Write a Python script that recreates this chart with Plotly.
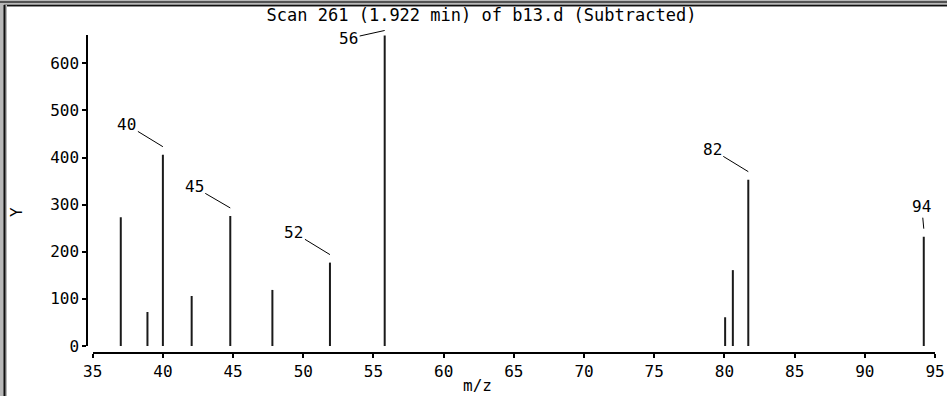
import plotly.graph_objects as go

# ---- data ----
mz = [37.0, 38.9, 40.0, 42.05, 44.8, 47.8, 51.9, 55.8, 80.05, 80.6, 81.7, 94.2]
abundance = [273, 72, 406, 106, 276, 119, 177, 659, 61, 161, 353, 232]

label_text = ["40", "45", "52", "56", "82", "94"]
label_mz = [40.0, 44.8, 51.9, 55.8, 81.7, 94.2]
label_val = [406, 276, 177, 659, 353, 232]

x_ticks = [35, 40, 45, 50, 55, 60, 65, 70, 75, 80, 85, 90, 95]
y_ticks = [0, 100, 200, 300, 400, 500, 600]

title_text = "Scan 261 (1.922 min) of b13.d (Subtracted)"

# ---- geometry ----
W, H = 947, 396
ML, MR, MT, MB = 87, 12, 35, 43
PW = W - ML - MR
PH = H - MT - MB
FONT = "DejaVu Sans Mono"
FS = 16

def px(p):
    return (p - ML) / PW

def py(q):
    return (H - MB - q) / PH

# stick spectrum built from the arrays
xs, ys = [], []
for m, a in zip(mz, abundance):
    xs += [m, m, None]
    ys += [0, a, None]

fig = go.Figure()
fig.add_trace(go.Scatter(x=xs, y=ys, mode="lines",
                         line=dict(color="#1a1a1a", width=2),
                         hoverinfo="skip", showlegend=False))

# label offsets (pixels) for text relative to the leader end
offsets = {"40": (-36, -22), "45": (-36, -21), "52": (-36, -22),
           "56": (-36, 8), "82": (-36, -22), "94": (-2, -22)}
shift = {"56": 5}

annotations = []
for t, m, v in zip(label_text, label_mz, label_val):
    ax, ay = offsets[t]
    annotations.append(dict(
        x=m, y=v, xref="x", yref="y", text=t, showarrow=True,
        arrowhead=0, arrowwidth=1, arrowcolor="black",
        ax=ax, ay=ay, yshift=shift.get(t, 8),
        font=dict(family=FONT, size=FS, color="black")))

annotations.append(dict(x=px(16), y=py(212), xref="paper", yref="paper",
                        xanchor="center", yanchor="middle",
                        text="Y", textangle=-90, showarrow=False,
                        font=dict(family=FONT, size=FS, color="black")))
annotations.append(dict(x=px(477), y=py(385), xref="paper", yref="paper",
                        xanchor="center", yanchor="middle",
                        text="m/z", showarrow=False,
                        font=dict(family=FONT, size=FS, color="black")))

shapes = [
    dict(type="rect", xref="paper", yref="paper", x0=px(0), x1=px(W), y0=py(0), y1=py(7),
         fillcolor="#b8b8b8", line=dict(width=0), layer="above"),
    dict(type="line", xref="paper", yref="paper", x0=px(0), x1=px(W), y0=py(2), y1=py(2),
         line=dict(color="#303030", width=1.5), layer="above"),
    dict(type="line", xref="paper", yref="paper", x0=px(4), x1=px(W), y0=py(5.5), y1=py(5.5),
         line=dict(color="#101010", width=1.5), layer="above"),
    dict(type="rect", xref="paper", yref="paper", x0=px(0), x1=px(7), y0=py(5), y1=py(H),
         fillcolor="#b8b8b8", line=dict(width=0), layer="above"),
    dict(type="line", xref="paper", yref="paper", x0=px(4.5), x1=px(4.5), y0=py(5), y1=py(H),
         line=dict(color="#101010", width=2), layer="above"),
]

x0_frac = (92.7 - ML) / PW
y0_frac = (353 - 346) / PH

fig.update_layout(
    width=W, height=H,
    margin=dict(l=ML, r=MR, t=MT, b=MB, pad=0, autoexpand=False),
    paper_bgcolor="white", plot_bgcolor="white",
    showlegend=False,
    title=dict(text=title_text, x=481.5 / W, xref="container", xanchor="center",
               y=1 - 15 / H, yref="container", yanchor="middle",
               font=dict(family=FONT, size=17, color="black")),
    xaxis=dict(range=[35, 95], domain=[x0_frac, 1], anchor="free", position=0,
               automargin=False,
               tickvals=x_ticks, ticktext=[str(v) for v in x_ticks],
               ticks="outside", ticklen=4, tickwidth=1.5, tickcolor="black",
               showline=True, linecolor="black", linewidth=1.5,
               showgrid=False, zeroline=False,
               tickfont=dict(family=FONT, size=FS, color="black")),
    yaxis=dict(range=[0, 660], domain=[y0_frac, 1], anchor="free", position=0,
               automargin=False,
               tickvals=y_ticks, ticktext=[str(v) for v in y_ticks],
               ticks="outside", ticklen=4, tickwidth=1.5, tickcolor="black",
               showline=True, linecolor="black", linewidth=1.5,
               showgrid=False, zeroline=False,
               tickfont=dict(family=FONT, size=FS, color="black")),
    annotations=annotations,
    shapes=shapes,
)

fig.write_html("out.html")
